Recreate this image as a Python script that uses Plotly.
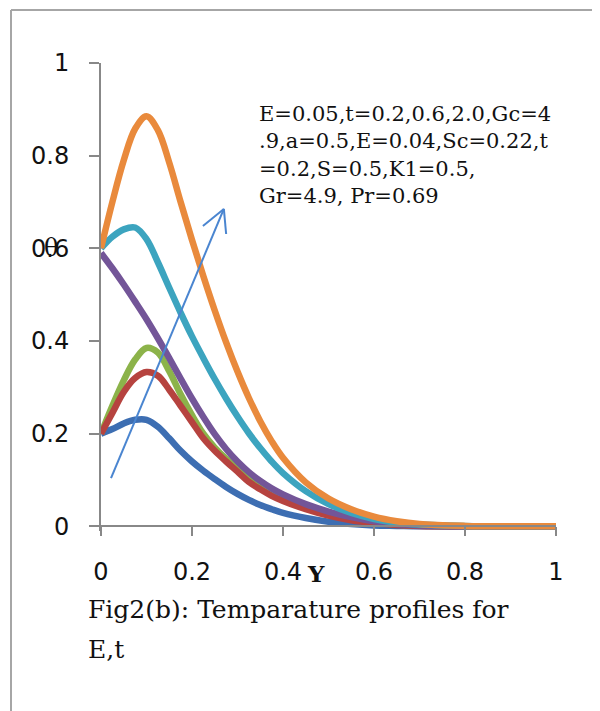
import plotly.graph_objects as go

x_vals = [0, 0.025, 0.05, 0.075, 0.1, 0.125, 0.15, 0.175, 0.2, 0.225, 0.25, 0.275, 0.3,
          0.325, 0.35, 0.375, 0.4, 0.45, 0.5, 0.55, 0.6, 0.65, 0.7, 0.8, 0.9, 1.0]

blue = [0.2, 0.21, 0.222, 0.23, 0.23, 0.215, 0.19, 0.163, 0.14, 0.12, 0.102, 0.085, 0.07,
        0.057, 0.046, 0.037, 0.029, 0.018, 0.01, 0.005, 0.002, 0.001, 0.0, 0.0, 0.0, 0.0]
green = [0.2, 0.26, 0.315, 0.36, 0.385, 0.375, 0.335, 0.285, 0.24, 0.2, 0.17, 0.146, 0.124,
         0.102, 0.086, 0.072, 0.061, 0.042, 0.028, 0.017, 0.009, 0.004, 0.002, 0.0, 0.0, 0.0]
red = [0.2, 0.245, 0.29, 0.32, 0.333, 0.325, 0.295, 0.26, 0.225, 0.19, 0.163, 0.14, 0.118,
       0.096, 0.08, 0.066, 0.055, 0.037, 0.023, 0.013, 0.007, 0.003, 0.001, 0.0, 0.0, 0.0]
purple = [0.59, 0.557, 0.522, 0.485, 0.447, 0.406, 0.363, 0.319, 0.276, 0.236, 0.199, 0.167, 0.14,
          0.117, 0.098, 0.082, 0.069, 0.048, 0.032, 0.02, 0.011, 0.005, 0.002, 0.0, 0.0, 0.0]
teal = [0.6, 0.625, 0.641, 0.645, 0.62, 0.57, 0.515, 0.461, 0.41, 0.363, 0.318, 0.276, 0.237,
        0.201, 0.169, 0.14, 0.115, 0.076, 0.048, 0.029, 0.016, 0.008, 0.004, 0.001, 0.0, 0.0]
orange = [0.6, 0.7, 0.79, 0.858, 0.885, 0.855, 0.785, 0.7, 0.618, 0.54, 0.466, 0.397, 0.334,
          0.277, 0.227, 0.184, 0.148, 0.095, 0.06, 0.037, 0.021, 0.011, 0.005, 0.001, 0.0, 0.0]

series = [
    ("blue", blue, "#3D6EB2"),
    ("green", green, "#8CB34A"),
    ("red", red, "#B6433F"),
    ("purple", purple, "#735598"),
    ("teal", teal, "#3CA4BF"),
    ("orange", orange, "#E98A3C"),
]

x_ticks = [0, 0.2, 0.4, 0.6, 0.8, 1]
x_tick_text = ["0", "0.2", "0.4", "0.6", "0.8", "1"]
y_ticks = [0, 0.2, 0.4, 0.6, 0.8, 1]
y_tick_text = ["0", "0.2", "0.4", "0.6", "0.8", "1"]

# arrow (data coordinates)
arrow_x = [0.022, 0.270]
arrow_y = [0.104, 0.685]
head_left = [0.224, 0.648]
head_right = [0.275, 0.631]

fig = go.Figure()
for name, ys, col in series:
    fig.add_trace(go.Scatter(x=x_vals, y=ys, mode="lines", name=name,
                             line=dict(color=col, width=6.5, shape="spline", smoothing=1.0),
                             showlegend=False))

arrow_col = "#4A85D0"
fig.add_shape(type="line", xref="x", yref="y", x0=arrow_x[0], y0=arrow_y[0],
              x1=arrow_x[1], y1=arrow_y[1], line=dict(color=arrow_col, width=2))
fig.add_shape(type="line", xref="x", yref="y", x0=arrow_x[1], y0=arrow_y[1],
              x1=head_left[0], y1=head_left[1], line=dict(color=arrow_col, width=2))
fig.add_shape(type="line", xref="x", yref="y", x0=arrow_x[1], y0=arrow_y[1],
              x1=head_right[0], y1=head_right[1], line=dict(color=arrow_col, width=2))

# outer frame (left and top borders)
frame_col = "#A6A6A6"
fig.add_shape(type="line", xref="paper", yref="paper", x0=-0.1978, y0=1.1132, x1=1.2, y1=1.1132,
              line=dict(color=frame_col, width=2))
fig.add_shape(type="line", xref="paper", yref="paper", x0=-0.1978, y0=1.1132, x1=-0.1978, y1=-0.5,
              line=dict(color=frame_col, width=2))

axis_col = "#888888"
ymin = -0.01
fig.update_xaxes(range=[0, 1], tickvals=x_ticks, ticktext=x_tick_text,
                 showgrid=False, zeroline=False, showline=True, linecolor=axis_col, linewidth=2,
                 ticks="outside", ticklen=9, tickwidth=2, tickcolor=axis_col,
                 tickfont=dict(family="DejaVu Sans", size=24, color="#111111"),
                 anchor="free", position=(0 - ymin) / (1 - ymin), ticklabelstandoff=15)
fig.update_yaxes(range=[ymin, 1], tickvals=y_ticks, ticktext=y_tick_text,
                 showgrid=False, zeroline=False, showline=True, linecolor=axis_col, linewidth=2,
                 ticks="outside", ticklen=10, tickwidth=2, tickcolor=axis_col,
                 tickfont=dict(family="DejaVu Sans", size=24, color="#111111"),
                 ticklabelstandoff=15)

fig.add_annotation(xref="paper", yref="paper", x=0.343, y=0.921, xanchor="left", yanchor="top",
                   align="left", showarrow=False,
                   text="E=0.05,t=0.2,0.6,2.0,Gc=4<br>.9,a=0.5,E=0.04,Sc=0.22,t<br>=0.2,S=0.5,K1=0.5,<br>Gr=4.9, Pr=0.69",
                   font=dict(family="DejaVu Serif", size=21, color="#111111"))

fig.add_annotation(xref="paper", yref="paper", x=0.4725, y=-0.0908, xanchor="center", yanchor="middle",
                   showarrow=False, text="<b>Y</b>",
                   font=dict(family="DejaVu Serif", size=23, color="#111111"))

fig.add_annotation(xref="paper", yref="y", x=-0.11, y=0.6, xanchor="center", yanchor="middle",
                   showarrow=False, text="θ",
                   font=dict(family="DejaVu Serif", size=24, color="#111111"))

fig.add_annotation(xref="paper", yref="paper", x=-0.033, y=-0.1325, xanchor="left", yanchor="top",
                   align="left", showarrow=False,
                   text="Fig2(b): Temparature profiles for",
                   font=dict(family="DejaVu Serif", size=25, color="#111111"))
fig.add_annotation(xref="paper", yref="paper", x=-0.033, y=-0.218, xanchor="left", yanchor="top",
                   align="left", showarrow=False,
                   text="E,t",
                   font=dict(family="DejaVu Serif", size=25, color="#111111"))

fig.update_layout(width=592, height=703, plot_bgcolor="white", paper_bgcolor="white",
                  margin=dict(l=93, r=44, t=55, b=180))

fig.write_html("out.html")
